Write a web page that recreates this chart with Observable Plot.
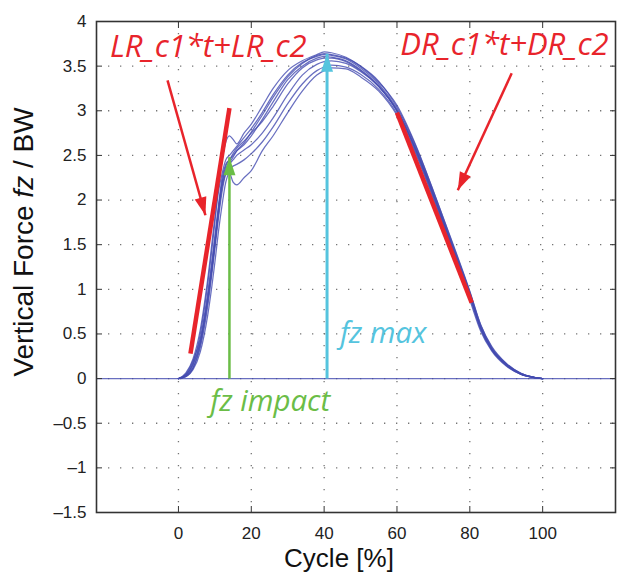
<!DOCTYPE html>
<html>
<head>
<meta charset="utf-8">
<script src="https://cdn.jsdelivr.net/npm/d3@7"></script>
<script src="https://cdn.jsdelivr.net/npm/@observablehq/plot@0.6"></script>
<style>
  html, body { margin: 0; padding: 0; background: #fff; }
  svg { display: block; }
</style>
</head>
<body>
<script>
// ---- data ----
const cycle = [0, 2, 4, 6, 8, 10, 11, 12, 13, 14, 15, 16, 18, 20, 23, 26, 30, 34, 38, 40, 42, 46, 50, 55, 60, 65, 70, 75, 80, 83, 86, 90, 94, 98, 100];
const trialA = [0,0.04,0.18,0.5,1.05,1.75,2.15,2.45,2.65,2.72,2.68,2.63,2.75,2.85,3.05,3.25,3.45,3.56,3.63,3.66,3.65,3.6,3.5,3.32,3.06,2.63,2.1,1.55,0.98,0.6,0.36,0.17,0.06,0.01,0];
const trialB = [0,0.02,0.1,0.3,0.7,1.3,1.65,1.95,2.2,2.3,2.2,2.17,2.25,2.33,2.55,2.72,2.98,3.22,3.4,3.45,3.48,3.47,3.38,3.22,2.95,2.53,2.01,1.46,0.88,0.53,0.31,0.14,0.05,0.01,0];
const trialC = [0,0.05,0.2,0.45,0.95,1.6,1.95,2.25,2.4,2.45,2.5,2.55,2.62,2.72,2.9,3.1,3.35,3.5,3.59,3.61,3.6,3.56,3.46,3.28,3.0,2.58,2.06,1.5,0.93,0.56,0.33,0.15,0.05,0.01,0];
const trialD = [0,0.03,0.12,0.35,0.8,1.45,1.8,2.1,2.3,2.4,2.45,2.5,2.56,2.62,2.75,2.92,3.18,3.4,3.52,3.55,3.56,3.53,3.44,3.27,3.0,2.57,2.05,1.5,0.94,0.57,0.33,0.16,0.05,0.01,0];
const trialE = [0,0.06,0.22,0.55,1.1,1.8,2.1,2.3,2.45,2.5,2.55,2.6,2.7,2.8,2.98,3.18,3.4,3.54,3.61,3.63,3.62,3.58,3.48,3.3,3.02,2.6,2.08,1.52,0.96,0.58,0.34,0.16,0.06,0.01,0];
const trialF = [0,0.02,0.12,0.38,0.85,1.5,1.85,2.15,2.3,2.35,2.38,2.4,2.45,2.52,2.65,2.82,3.08,3.3,3.45,3.49,3.51,3.49,3.41,3.24,2.97,2.55,2.03,1.48,0.91,0.55,0.32,0.15,0.05,0.01,0];
const trialG = [0,0.04,0.16,0.42,0.9,1.55,1.9,2.2,2.38,2.45,2.52,2.58,2.66,2.75,2.88,3.05,3.3,3.48,3.57,3.59,3.59,3.55,3.45,3.27,3.0,2.58,2.06,1.5,0.94,0.57,0.33,0.16,0.05,0.01,0];
const trialH = [0,0.03,0.15,0.4,0.88,1.5,1.88,2.18,2.35,2.42,2.48,2.55,2.64,2.76,2.95,3.15,3.38,3.53,3.62,3.64,3.63,3.59,3.5,3.33,3.04,2.62,2.1,1.54,0.97,0.6,0.35,0.17,0.06,0.01,0];
const trials = {A: trialA, B: trialB, C: trialC, D: trialD, E: trialE, F: trialF, G: trialG, H: trialH};

// fitted lines (loading rate / decay rate)
const fitLR = {x1: 3.3, y1: 0.28, x2: 14.0, y2: 3.03};
const fitDR = {x1: 60.0, y1: 2.98, x2: 80.5, y2: 0.85};
// annotation arrows
const arrowLR = {x1: -3.0, y1: 3.34, x2: 7.4, y2: 1.83};
const arrowDR = {x1: 91.5, y1: 3.42, x2: 76.7, y2: 2.11};
const arrowImpact = {x1: 14.0, y1: 0, x2: 14.0, y2: 2.48};
const arrowMax = {x1: 40.8, y1: 0, x2: 40.8, y2: 3.64};
// labels
const labelLR = {x: 8.2, y: 3.6, text: "LR_c1*t+LR_c2"};
const labelDR = {x: 89.5, y: 3.62, text: "DR_c1*t+DR_c2"};
const labelImpact = {x: 25.2, y: -0.36, text: "fz impact"};
const labelMax = {x: 56.2, y: 0.40, text: "fz max"};

const xTicks = [0, 20, 40, 60, 80, 100];
const yTicks = [-1.5, -1, -0.5, 0, 0.5, 1, 1.5, 2, 2.5, 3, 3.5, 4];
const yGrid = [-1, -0.5, 0, 0.5, 1, 1.5, 2, 2.5, 3, 3.5];

// ---- build table ----
const rows = [];
for (const [name, vals] of Object.entries(trials)) {
  vals.forEach((v, i) => rows.push({trial: name, cycle: cycle[i], fz: v}));
}

const BLUE = "#434bb0", RED = "#e8242b", GREEN = "#6bbd47", CYAN = "#55c4de";
const fmt = (d) => (d < 0 ? "\u2013" : "") + String(Math.abs(d));

function headMarker(color) {
  return () => {
    const m = d3.create("svg:marker")
      .attr("viewBox", "-19 -7 20 14")
      .attr("markerWidth", 20).attr("markerHeight", 14)
      .attr("markerUnits", "userSpaceOnUse")
      .attr("refX", 0).attr("refY", 0)
      .attr("orient", "auto");
    m.append("path").attr("d", "M-18,-6L0,0L-18,6Z").attr("fill", color).attr("stroke", "none");
    return m.node();
  };
}

const svg = Plot.plot({
  width: 617,
  height: 575,
  marginLeft: 96,
  marginRight: 2,
  marginTop: 21,
  marginBottom: 63,
  style: {fontFamily: "Liberation Sans, Arial, sans-serif", fontSize: "17px", color: "#222", background: "#fff"},
  x: {domain: [-22.5, 120]},
  y: {domain: [-1.5, 4]},
  marks: [
    Plot.gridX(xTicks, {stroke: "#666", strokeOpacity: 0.9, strokeWidth: 1.3, strokeDasharray: "1.3,10.7"}),
    Plot.gridY(yGrid, {stroke: "#666", strokeOpacity: 0.9, strokeWidth: 1.3, strokeDasharray: "1.3,10.7"}),
    Plot.ruleY([0], {stroke: BLUE, strokeWidth: 1.3, strokeOpacity: 0.8}),
    Plot.line(rows, {x: "cycle", y: "fz", z: "trial", curve: "monotone-x", stroke: BLUE, strokeWidth: 1.25, strokeOpacity: 0.8}),
    Plot.link([fitLR, fitDR], {x1: "x1", y1: "y1", x2: "x2", y2: "y2", stroke: RED, strokeWidth: 4.5}),
    Plot.link([arrowLR, arrowDR], {x1: "x1", y1: "y1", x2: "x2", y2: "y2", stroke: RED, strokeWidth: 2.5, markerEnd: headMarker(RED)}),
    Plot.link([arrowImpact], {x1: "x1", y1: "y1", x2: "x2", y2: "y2", stroke: GREEN, strokeWidth: 2.5, markerEnd: headMarker(GREEN)}),
    Plot.link([arrowMax], {x1: "x1", y1: "y1", x2: "x2", y2: "y2", stroke: CYAN, strokeWidth: 3, markerEnd: headMarker(CYAN)}),
    Plot.text([labelLR, labelDR], {x: "x", y: "y", text: "text", fill: RED, fontSize: 31, fontStyle: "italic", fontFamily: "Open Sans", lineAnchor: "bottom", textAnchor: "middle"}),
    Plot.text([labelImpact], {x: "x", y: "y", text: "text", fill: GREEN, fontSize: 29.5, fontStyle: "italic", fontFamily: "Open Sans", lineAnchor: "bottom", textAnchor: "middle"}),
    Plot.text([labelMax], {x: "x", y: "y", text: "text", fill: CYAN, fontSize: 29.5, fontStyle: "italic", fontFamily: "Open Sans", lineAnchor: "bottom", textAnchor: "middle"}),
    Plot.frame({stroke: "#333", strokeWidth: 1.6}),
    Plot.axisX(xTicks, {anchor: "bottom", tickSize: -6, tickPadding: 20, tickFormat: fmt, label: null, stroke: "#333", fill: "#222", fontSize: 17}),
    Plot.axisX(xTicks, {anchor: "top", tickSize: -6, tickFormat: () => "", label: null, stroke: "#333"}),
    Plot.axisY(yTicks, {anchor: "left", tickSize: -6, tickPadding: 16, tickFormat: fmt, label: null, stroke: "#333", fill: "#222", fontSize: 17}),
    Plot.axisY(yTicks, {anchor: "right", tickSize: -6, tickFormat: () => "", label: null, stroke: "#333"})
  ]
});

const s = d3.select(svg);
const yl = s.append("text")
  .attr("transform", "translate(33,242) rotate(-90)")
  .attr("text-anchor", "middle")
  .attr("font-family", "Liberation Sans, Arial, sans-serif")
  .attr("font-size", 28)
  .attr("fill", "#111");
yl.append("tspan").text("Vertical Force ");
yl.append("tspan").attr("font-style", "italic").text("fz");
yl.append("tspan").text(" / BW");

s.append("text")
  .attr("x", 339).attr("y", 567)
  .attr("text-anchor", "middle")
  .attr("font-family", "Liberation Sans, Arial, sans-serif")
  .attr("font-size", 26)
  .attr("fill", "#111")
  .text("Cycle [%]");

document.body.appendChild(svg);
</script>
</body>
</html>
